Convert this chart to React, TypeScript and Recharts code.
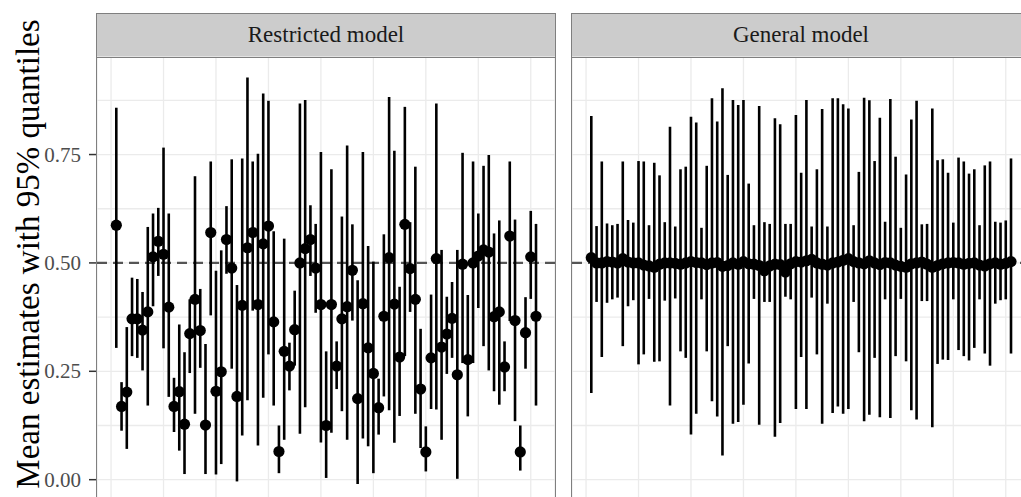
import { ScatterChart, Scatter, XAxis, YAxis, CartesianGrid, ErrorBar, ReferenceLine } from 'recharts'

// simulation index (81 replicates per model)
const replicate = Array.from({ length: 81 }, (_, i) => i + 1)

const restrictedMean = [
  0.587, 0.169, 0.202, 0.371, 0.371, 0.345, 0.387, 0.514, 0.550, 0.520,
  0.398, 0.169, 0.203, 0.128, 0.337, 0.416, 0.344, 0.126, 0.570, 0.204,
  0.249, 0.554, 0.488, 0.192, 0.402, 0.535, 0.570, 0.404, 0.544, 0.585,
  0.364, 0.065, 0.296, 0.262, 0.346, 0.500, 0.533, 0.554, 0.488, 0.404,
  0.125, 0.404, 0.262, 0.371, 0.399, 0.483, 0.187, 0.406, 0.304, 0.245,
  0.166, 0.377, 0.512, 0.405, 0.283, 0.589, 0.487, 0.416, 0.209, 0.064,
  0.281, 0.510, 0.306, 0.336, 0.372, 0.242, 0.497, 0.277, 0.500, 0.516,
  0.530, 0.525, 0.376, 0.387, 0.260, 0.562, 0.367, 0.064, 0.339, 0.514,
  0.377,
]
const restrictedLow = [
  0.304, 0.113, 0.071, 0.285, 0.281, 0.252, 0.171, 0.400, 0.470, 0.303,
  0.191, 0.110, 0.067, 0.013, 0.246, 0.152, 0.258, 0.013, 0.379, 0.012,
  0.036, 0.475, 0.256, -0.004, 0.102, 0.183, 0.390, 0.079, 0.189, 0.289,
  0.171, 0.015, 0.092, 0.206, 0.263, 0.106, 0.167, 0.470, 0.385, 0.086,
  0.004, 0.108, 0.209, 0.158, 0.092, 0.367, -0.010, 0.095, 0.077, 0.015,
  0.104, 0.192, 0.160, 0.085, 0.147, 0.285, 0.387, 0.152, 0.073, 0.019,
  0.163, 0.162, 0.092, 0.244, 0.281, 0.002, 0.269, 0.146, 0.269, 0.396,
  0.308, 0.252, 0.204, 0.173, 0.204, 0.366, 0.135, 0.021, 0.256, 0.417,
  0.171,
]
const restrictedHigh = [
  0.858, 0.225, 0.352, 0.466, 0.463, 0.433, 0.583, 0.614, 0.627, 0.766,
  0.614, 0.235, 0.358, 0.294, 0.416, 0.700, 0.440, 0.313, 0.734, 0.482,
  0.529, 0.631, 0.739, 0.449, 0.741, 0.928, 0.734, 0.752, 0.891, 0.874,
  0.573, 0.125, 0.556, 0.316, 0.436, 0.868, 0.876, 0.633, 0.590, 0.756,
  0.296, 0.716, 0.319, 0.607, 0.771, 0.589, 0.460, 0.756, 0.539, 0.503,
  0.233, 0.566, 0.883, 0.759, 0.445, 0.860, 0.594, 0.722, 0.348, 0.123,
  0.427, 0.868, 0.530, 0.422, 0.456, 0.530, 0.754, 0.426, 0.734, 0.614,
  0.724, 0.749, 0.568, 0.598, 0.319, 0.734, 0.600, 0.125, 0.421, 0.620,
  0.590,
]

const generalMean = [
  0.512, 0.500, 0.500, 0.503, 0.502, 0.500, 0.510, 0.502, 0.500, 0.500,
  0.495, 0.493, 0.490, 0.497, 0.500, 0.500, 0.499, 0.497, 0.500, 0.503,
  0.501, 0.500, 0.496, 0.500, 0.501, 0.492, 0.494, 0.500, 0.497, 0.503,
  0.498, 0.497, 0.494, 0.482, 0.493, 0.497, 0.496, 0.479, 0.498, 0.503,
  0.502, 0.505, 0.508, 0.500, 0.497, 0.495, 0.500, 0.502, 0.506, 0.510,
  0.503, 0.500, 0.498, 0.505, 0.500, 0.496, 0.501, 0.500, 0.495, 0.492,
  0.490, 0.498, 0.500, 0.502, 0.497, 0.490, 0.494, 0.498, 0.500, 0.501,
  0.500, 0.497, 0.499, 0.500, 0.495, 0.493, 0.498, 0.500, 0.497, 0.499,
  0.503,
]
const generalLow = [
  0.200, 0.410, 0.283, 0.408, 0.416, 0.420, 0.308, 0.400, 0.414, 0.266,
  0.289, 0.417, 0.272, 0.273, 0.413, 0.171, 0.418, 0.296, 0.281, 0.104,
  0.152, 0.416, 0.296, 0.181, 0.146, 0.056, 0.308, 0.129, 0.133, 0.173,
  0.268, 0.417, 0.127, 0.410, 0.410, 0.099, 0.131, 0.422, 0.416, 0.163,
  0.283, 0.163, 0.420, 0.289, 0.129, 0.406, 0.154, 0.169, 0.152, 0.163,
  0.410, 0.294, 0.135, 0.150, 0.281, 0.144, 0.416, 0.142, 0.285, 0.417,
  0.273, 0.160, 0.139, 0.412, 0.412, 0.121, 0.267, 0.277, 0.276, 0.416,
  0.299, 0.285, 0.275, 0.304, 0.416, 0.291, 0.263, 0.406, 0.414, 0.416,
  0.291,
]
const generalHigh = [
  0.839, 0.585, 0.734, 0.591, 0.587, 0.590, 0.734, 0.599, 0.593, 0.735,
  0.734, 0.587, 0.731, 0.702, 0.594, 0.814, 0.584, 0.716, 0.722, 0.837,
  0.824, 0.581, 0.724, 0.880, 0.826, 0.903, 0.703, 0.876, 0.864, 0.876,
  0.683, 0.587, 0.862, 0.594, 0.590, 0.834, 0.820, 0.590, 0.590, 0.841,
  0.708, 0.876, 0.584, 0.716, 0.855, 0.584, 0.880, 0.880, 0.866, 0.856,
  0.587, 0.710, 0.881, 0.875, 0.735, 0.835, 0.595, 0.878, 0.745, 0.581,
  0.704, 0.831, 0.874, 0.589, 0.590, 0.856, 0.737, 0.739, 0.708, 0.593,
  0.743, 0.734, 0.706, 0.716, 0.587, 0.725, 0.734, 0.595, 0.593, 0.598,
  0.741,
]

const yGridTicks = [0, 0.125, 0.25, 0.375, 0.5, 0.625, 0.75, 0.875]
const yLabelTicks = [0, 0.25, 0.5, 0.75]
const xGridTicks = [0, 10, 20, 30, 40, 50, 60, 70, 80]

const FONT = '"Liberation Serif", "DejaVu Serif", serif'
const PLOT_W = 458
const PLOT_TOP = 57
const CHART_H = 505

function makeRows(mean: number[], low: number[], high: number[]) {
  return replicate.map((x, i) => ({
    x,
    mean: mean[i],
    err: [mean[i] - low[i], high[i] - mean[i]],
  }))
}

const YTick = (props: any) => {
  const { y, payload } = props
  const v = payload.value
  if (!yLabelTicks.includes(v)) return <g />
  return (
    <g>
      <line x1={89} x2={96} y1={y} y2={y} stroke="#333" strokeWidth={1.5} />
      <text x={81} y={y} dy={7} textAnchor="end" fontSize={21} fill="#4d4d4d" fontFamily={FONT}>
        {v.toFixed(2)}
      </text>
    </g>
  )
}

const Dot = (props: any) => <circle cx={props.cx} cy={props.cy} r={5.6} fill="#000" />

function Panel({ title, rows, left, showAxis }: { title: string; rows: any[]; left: number; showAxis: boolean }) {
  const plotLeft = showAxis ? 97 : 0
  const width = plotLeft + PLOT_W
  return (
    <div style={{ position: 'absolute', left, top: 0, width, height: CHART_H }}>
      <div
        style={{
          position: 'absolute',
          left: plotLeft - 1,
          top: 13,
          width: PLOT_W + 2,
          height: PLOT_TOP - 13 + 1,
          boxSizing: 'border-box',
          background: '#cccccc',
          border: '1.5px solid #7f7f7f',
          textAlign: 'center',
          lineHeight: '41px',
          fontSize: 23,
          color: '#1a1a1a',
          fontFamily: FONT,
        }}
      >
        {title}
      </div>
      <ScatterChart width={width} height={CHART_H} margin={{ top: PLOT_TOP, right: 0, bottom: 0, left: 0 }}>
        <CartesianGrid stroke="#ebebeb" strokeWidth={1.3} />
        <XAxis dataKey="x" type="number" domain={[-2.68, 84.62]} ticks={xGridTicks} hide />
        <YAxis
          dataKey="mean"
          type="number"
          domain={[-0.0584, 0.975]}
          ticks={yGridTicks}
          hide={!showAxis}
          width={97}
          axisLine={false}
          tickLine={false}
          tick={<YTick />}
          interval={0}
        />
        <ReferenceLine y={0.5} stroke="#555" strokeWidth={2.4} strokeDasharray="10 6" />
        <Scatter data={rows} shape={<Dot />} isAnimationActive={false}>
          <ErrorBar dataKey="err" direction="y" width={0} stroke="#000" strokeWidth={2.6} isAnimationActive={false} />
        </Scatter>
      </ScatterChart>
      <div
        style={{
          position: 'absolute',
          left: plotLeft - 1,
          top: PLOT_TOP,
          width: PLOT_W + 2,
          height: CHART_H - PLOT_TOP + 10,
          boxSizing: 'border-box',
          border: '1.5px solid #7f7f7f',
          pointerEvents: 'none',
        }}
      />
    </div>
  )
}

export default function App() {
  const restricted = makeRows(restrictedMean, restrictedLow, restrictedHigh)
  const general = makeRows(generalMean, generalLow, generalHigh)
  return (
    <div
      style={{
        position: 'absolute',
        left: 0,
        top: 0,
        width: 1021,
        height: 497,
        overflow: 'hidden',
        background: '#fff',
        fontFamily: FONT,
      }}
    >
      <svg width={60} height={497} style={{ position: 'absolute', left: 0, top: 0 }}>
        <text
          transform="translate(39, 254) rotate(-90)"
          textAnchor="middle"
          fontSize={33}
          fill="#000"
          fontFamily={FONT}
        >
          Mean estimates with 95% quantiles
        </text>
      </svg>
      <Panel title="Restricted model" rows={restricted} left={0} showAxis />
      <Panel title="General model" rows={general} left={572} showAxis={false} />
    </div>
  )
}
